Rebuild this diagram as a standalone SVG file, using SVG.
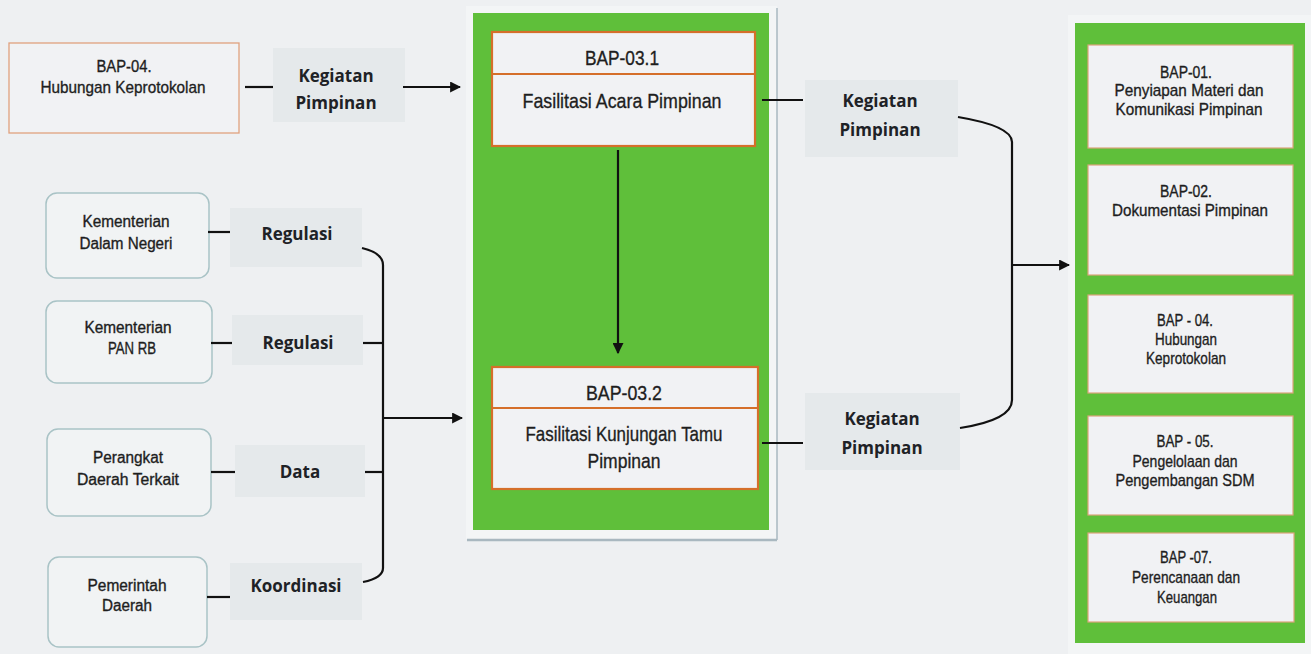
<svg xmlns="http://www.w3.org/2000/svg" width="1311" height="654" viewBox="0 0 1311 654">
<defs>
<marker id="ah" viewBox="0 0 10 10" refX="9" refY="5" markerWidth="5" markerHeight="5" markerUnits="strokeWidth" orient="auto">
<path d="M0,0 L10,5 L0,10 z" fill="#111"/>
</marker>
<style>
.nar{font-family:"Liberation Sans",Arial,sans-serif;fill:#1e1e1e;stroke:#1e1e1e;stroke-width:0.35;text-anchor:middle;dominant-baseline:central}
.lbl{font-family:"Open Sans","Noto Sans",sans-serif;font-weight:700;font-size:17px;fill:#1e2226;text-anchor:middle;dominant-baseline:central}
.lblbg{fill:#e5e9eb}
.ln{stroke:#111;stroke-width:2.2;fill:none}
.src{fill:#f1f3f4;stroke:#a9c3c6;stroke-width:1.5}
.box{fill:#f1f2f4;stroke:#d56f2a;stroke-width:2.2}
.rbox{fill:#f1f2f4;stroke:#dca47a;stroke-width:1.2}
.green{fill:#5fbf3a}
</style>
</defs>
<rect width="1311" height="654" fill="#eef0f2"/>

<g id="frame-mid">
<rect x="466" y="6" width="311" height="533" fill="#f3f5f6"/>
<line x1="777" y1="8" x2="777" y2="540" stroke="#a9b8c0" stroke-width="1.5"/>
<line x1="467" y1="540" x2="777" y2="540" stroke="#a9b8c0" stroke-width="2.5"/>
<rect class="green" x="473" y="13" width="296" height="517"/>
</g>

<g id="frame-right">
<rect x="1068" y="15" width="243" height="639" fill="#f3f5f6"/>
<rect class="green" x="1075" y="23" width="230" height="620"/>
</g>

<g id="bap04-src">
<rect x="9" y="43" width="230" height="90" fill="#f1f2f4" stroke="#e0a17e" stroke-width="1.3"/>
<text class="nar" x="124" y="66" font-size="17" textLength="55" lengthAdjust="spacingAndGlyphs">BAP-04.</text>
<text class="nar" x="123" y="87" font-size="17" textLength="165" lengthAdjust="spacingAndGlyphs">Hubungan Keprotokolan</text>
</g>

<g id="bap031">
<rect class="box" x="492" y="32" width="263" height="114"/>
<line x1="492" y1="74" x2="755" y2="74" stroke="#d56f2a" stroke-width="2.2"/>
<text class="nar" x="622" y="57" font-size="21" textLength="74" lengthAdjust="spacingAndGlyphs">BAP-03.1</text>
<text class="nar" x="622" y="100" font-size="21" textLength="199" lengthAdjust="spacingAndGlyphs">Fasilitasi Acara Pimpinan</text>
</g>

<g id="bap032">
<rect class="box" x="492" y="367" width="266" height="122"/>
<line x1="492" y1="408" x2="758" y2="408" stroke="#d56f2a" stroke-width="2.2"/>
<text class="nar" x="624" y="392" font-size="21" textLength="76" lengthAdjust="spacingAndGlyphs">BAP-03.2</text>
<text class="nar" x="624" y="433" font-size="21" textLength="197" lengthAdjust="spacingAndGlyphs">Fasilitasi Kunjungan Tamu</text>
<text class="nar" x="624" y="460" font-size="21" textLength="73" lengthAdjust="spacingAndGlyphs">Pimpinan</text>
</g>

<g id="kemendagri">
<rect class="src" x="46" y="193" width="163" height="85" rx="11"/>
<text class="nar" x="126" y="221" font-size="16" textLength="87" lengthAdjust="spacingAndGlyphs">Kementerian</text>
<text class="nar" x="126" y="243" font-size="16" textLength="93" lengthAdjust="spacingAndGlyphs">Dalam Negeri</text>
</g>
<g id="kemenpan">
<rect class="src" x="46" y="301" width="166" height="82" rx="11"/>
<text class="nar" x="128" y="327" font-size="16" textLength="87" lengthAdjust="spacingAndGlyphs">Kementerian</text>
<text class="nar" x="132" y="348" font-size="16" textLength="48" lengthAdjust="spacingAndGlyphs">PAN RB</text>
</g>
<g id="perangkat">
<rect class="src" x="47" y="429" width="164" height="87" rx="11"/>
<text class="nar" x="128" y="457" font-size="16" textLength="70" lengthAdjust="spacingAndGlyphs">Perangkat</text>
<text class="nar" x="128" y="479" font-size="16" textLength="102" lengthAdjust="spacingAndGlyphs">Daerah Terkait</text>
</g>
<g id="pemda">
<rect class="src" x="48" y="557" width="159" height="90" rx="11"/>
<text class="nar" x="127" y="585" font-size="16" textLength="79" lengthAdjust="spacingAndGlyphs">Pemerintah</text>
<text class="nar" x="127" y="605" font-size="16" textLength="50" lengthAdjust="spacingAndGlyphs">Daerah</text>
</g>

<g id="bap01">
<rect class="rbox" x="1088" y="45" width="205" height="103"/>
<text class="nar" x="1186" y="72" font-size="17" textLength="52" lengthAdjust="spacingAndGlyphs">BAP-01.</text>
<text class="nar" x="1189" y="90" font-size="17" textLength="149" lengthAdjust="spacingAndGlyphs">Penyiapan Materi dan</text>
<text class="nar" x="1189" y="109" font-size="17" textLength="147" lengthAdjust="spacingAndGlyphs">Komunikasi Pimpinan</text>
</g>
<g id="bap02">
<rect class="rbox" x="1088" y="165" width="205" height="110"/>
<text class="nar" x="1186" y="191" font-size="17" textLength="52" lengthAdjust="spacingAndGlyphs">BAP-02.</text>
<text class="nar" x="1190" y="210" font-size="17" textLength="156" lengthAdjust="spacingAndGlyphs">Dokumentasi Pimpinan</text>
</g>
<g id="bap04">
<rect class="rbox" x="1088" y="295" width="205" height="98"/>
<text class="nar" x="1185" y="320" font-size="17" textLength="56" lengthAdjust="spacingAndGlyphs">BAP - 04.</text>
<text class="nar" x="1186" y="339" font-size="17" textLength="62" lengthAdjust="spacingAndGlyphs">Hubungan</text>
<text class="nar" x="1186" y="358" font-size="17" textLength="80" lengthAdjust="spacingAndGlyphs">Keprotokolan</text>
</g>
<g id="bap05">
<rect class="rbox" x="1088" y="416" width="205" height="99"/>
<text class="nar" x="1185" y="441" font-size="17" textLength="57" lengthAdjust="spacingAndGlyphs">BAP - 05.</text>
<text class="nar" x="1185" y="461" font-size="17" textLength="105" lengthAdjust="spacingAndGlyphs">Pengelolaan dan</text>
<text class="nar" x="1185" y="480" font-size="17" textLength="139" lengthAdjust="spacingAndGlyphs">Pengembangan SDM</text>
</g>
<g id="bap07">
<rect class="rbox" x="1088" y="533" width="206" height="89"/>
<text class="nar" x="1186" y="557" font-size="17" textLength="52" lengthAdjust="spacingAndGlyphs">BAP -07.</text>
<text class="nar" x="1186" y="577" font-size="17" textLength="108" lengthAdjust="spacingAndGlyphs">Perencanaan dan</text>
<text class="nar" x="1187" y="597" font-size="17" textLength="60" lengthAdjust="spacingAndGlyphs">Keuangan</text>
</g>

<g id="connectors">
<rect class="lblbg" x="273" y="48" width="132" height="74"/>
<text class="lbl" x="336" y="75">Kegiatan</text>
<text class="lbl" x="336" y="102">Pimpinan</text>
<line class="ln" x1="245" y1="87" x2="273" y2="87"/>
<line class="ln" x1="403" y1="87" x2="460" y2="87" marker-end="url(#ah)"/>

<line class="ln" x1="618" y1="150" x2="618" y2="353" marker-end="url(#ah)"/>

<rect class="lblbg" x="230" y="208" width="132" height="59"/>
<text class="lbl" x="297" y="233">Regulasi</text>
<rect class="lblbg" x="232" y="315" width="131" height="50"/>
<text class="lbl" x="298" y="342">Regulasi</text>
<rect class="lblbg" x="235" y="445" width="130" height="52"/>
<text class="lbl" x="300" y="471">Data</text>
<rect class="lblbg" x="230" y="563" width="132" height="57"/>
<text class="lbl" x="296" y="585">Koordinasi</text>

<line class="ln" x1="208" y1="232" x2="230" y2="232"/>
<line class="ln" x1="211" y1="343" x2="232" y2="343"/>
<line class="ln" x1="211" y1="472" x2="235" y2="472"/>
<line class="ln" x1="207" y1="597" x2="230" y2="597"/>
<line class="ln" x1="363" y1="343" x2="383" y2="343"/>
<line class="ln" x1="365" y1="472" x2="383" y2="472"/>
<path class="ln" d="M362,248 Q383,253 383,265 L383,568 Q383,578 363,582"/>
<line class="ln" x1="383" y1="418" x2="462" y2="418" marker-end="url(#ah)"/>

<rect class="lblbg" x="805" y="80" width="153" height="77"/>
<text class="lbl" x="880" y="100">Kegiatan</text>
<text class="lbl" x="880" y="129">Pimpinan</text>
<rect class="lblbg" x="805" y="393" width="155" height="77"/>
<text class="lbl" x="882" y="418">Kegiatan</text>
<text class="lbl" x="882" y="447">Pimpinan</text>
<line class="ln" x1="762" y1="100" x2="803" y2="100"/>
<line class="ln" x1="762" y1="443" x2="803" y2="443"/>
<path class="ln" d="M958,117 Q1012,126 1012,142 L1012,400 Q1012,420 960,428"/>
<line class="ln" x1="1012" y1="265" x2="1069" y2="265" marker-end="url(#ah)"/>
</g>
</svg>
